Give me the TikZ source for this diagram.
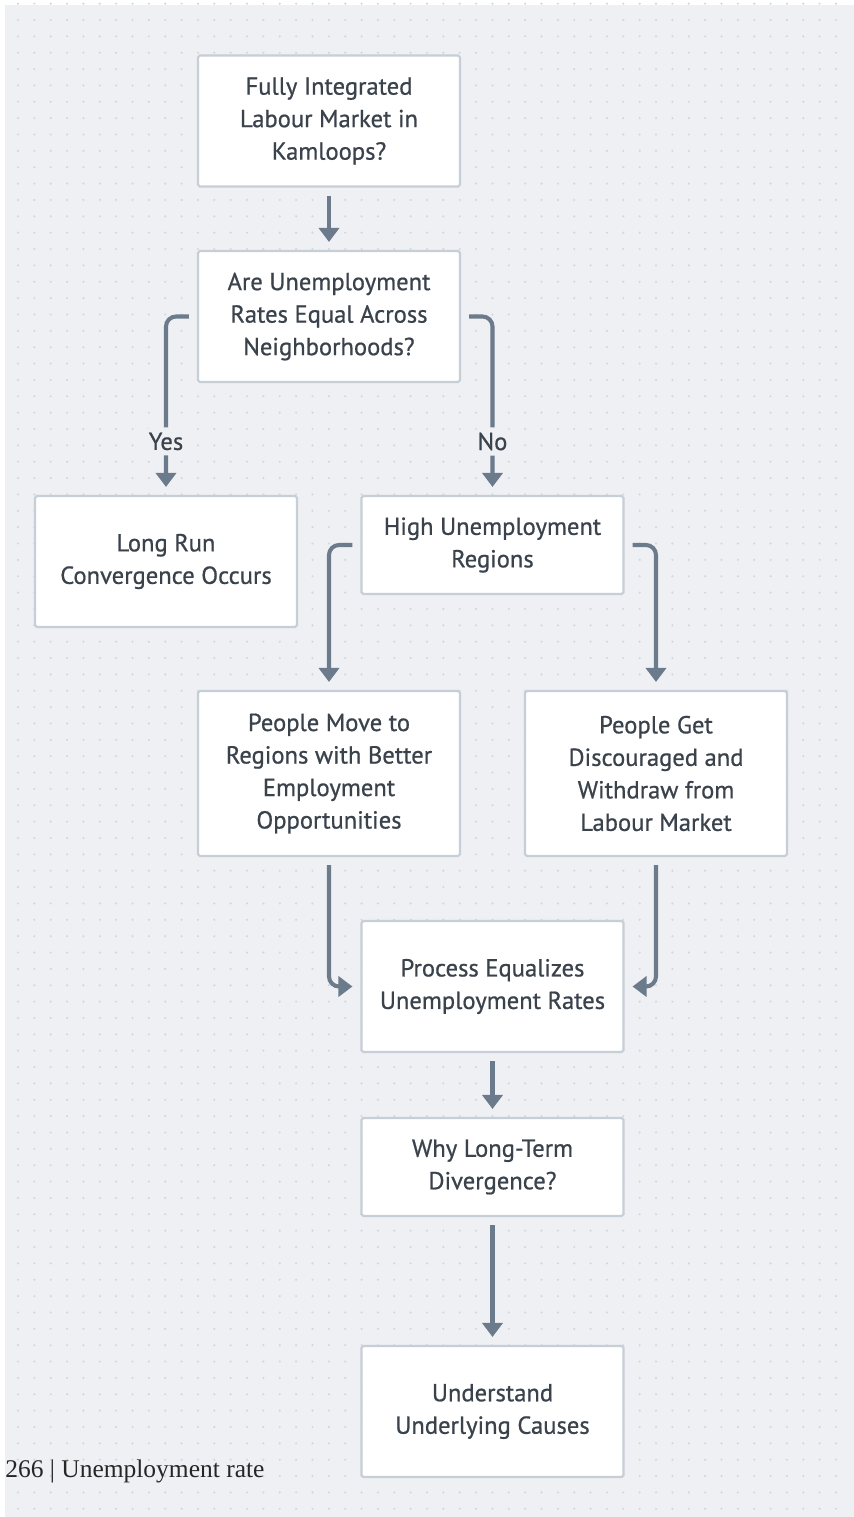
\documentclass[tikz,border=0pt]{standalone}
\usepackage{fontspec}
\setmainfont{PT Sans}
\newfontfamily\boxfont{PT Sans}[FakeBold=0.7]
\newfontfamily\pagefont{Liberation Serif}
\usetikzlibrary{arrows.meta}
\definecolor{bgcol}{HTML}{EFF0F4}
\definecolor{dotcol}{HTML}{D2D8DF}
\definecolor{edgecol}{HTML}{C6CED6}
\definecolor{arrowcol}{HTML}{6B7B8B}
\definecolor{txtcol}{HTML}{3A424C}
\tikzset{
  box/.style={draw=edgecol, line width=1.2pt, fill=white, rounded corners=1pt,
    minimum width=5.24cm, minimum height=2.62cm, align=center, text=txtcol,
    font=\boxfont\fontsize{14}{18.5}\selectfont},
  flow/.style={draw=arrowcol, line width=2.3pt, rounded corners=0.2cm,
    -{Triangle[length=0.28cm,width=0.4cm]}, shorten <=0.16cm, shorten >=0.16cm},
  lbl/.style={fill=bgcol, text=txtcol, inner sep=3pt,
    font=\boxfont\fontsize{14}{18.5}\selectfont}
}

\begin{document}
\begin{tikzpicture}[x=0.02cm,y=-0.02cm]
\useasboundingbox (0,0) rectangle (854,1517);
\fill[bgcol] (5,5) rectangle (854,1517);
% dotted grid
\foreach \i in {0,...,50}
  \foreach \j in {0,...,92}
    \fill[dotcol] (18+16.36*\i,3.64+16.36*\j) circle (0.024cm);

% boxes
\node[box] (top) at (329,121) {Fully Integrated\\Labour Market in\\Kamloops?};
\node[box] (equal) at (329,316.5) {Are Unemployment\\Rates Equal Across\\Neighborhoods?};
\node[box] (conv) at (166,561.5) {Long Run\\Convergence Occurs};
\node[box,minimum height=1.96cm] (high) at (492.5,545) {High Unemployment\\Regions};
\node[box,minimum height=3.3cm] (move) at (329,773.5) {People Move to\\Regions with Better\\Employment\\Opportunities};
\node[box,minimum height=3.3cm] (disc) at (656,773.5) {People Get\\Discouraged and\\Withdraw from\\Labour Market};
\node[box] (proc) at (492.5,986.5) {Process Equalizes\\Unemployment Rates};
\node[box,minimum height=1.96cm] (why) at (492.5,1167) {Why Long-Term\\Divergence?};
\node[box] (cause) at (492.5,1411.5) {Understand\\Underlying Causes};

% connectors
\draw[flow] (top) -- (equal);
\draw[flow] (equal.west) -| node[lbl,pos=0.85] (yes) {Yes} (conv.north);
\draw[flow] (equal.east) -| node[lbl,pos=0.85] (no) {No} (high.north);
\draw[flow] (high.west) -| (move.north);
\draw[flow] (high.east) -| (disc.north);
\draw[flow] (move.south) |- (proc.west);
\draw[flow] (disc.south) |- (proc.east);
\draw[flow] (proc) -- (why);
\draw[flow] (why) -- (cause);

% page footer
\node[anchor=base west,inner sep=0pt,text=black!85,
  font=\pagefont\fontsize{14.5}{17}\selectfont] (page) at (5,1477) {266 | Unemployment rate};
\end{tikzpicture}
\end{document}
